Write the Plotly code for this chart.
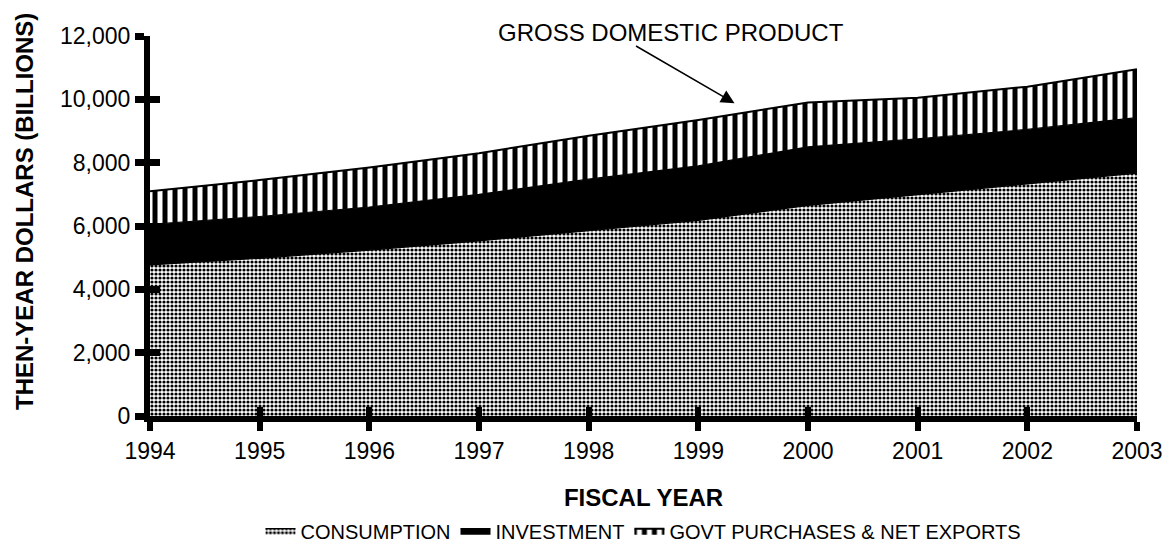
import plotly.graph_objects as go

years = [1994, 1995, 1996, 1997, 1998, 1999, 2000, 2001, 2002, 2003]
consumption = [4770, 4980, 5240, 5530, 5850, 6180, 6650, 7000, 7330, 7670]
investment = [1280, 1320, 1360, 1470, 1630, 1720, 1850, 1750, 1720, 1750]
govt_net_exports = [1050, 1150, 1250, 1300, 1370, 1450, 1400, 1300, 1350, 1530]

y_ticks = [0, 2000, 4000, 6000, 8000, 10000, 12000]

FONT = "Liberation Sans, Arial, sans-serif"

fig = go.Figure()
fig.add_trace(go.Scatter(
    x=years, y=consumption, name="CONSUMPTION", stackgroup="gdp",
    mode="lines", line=dict(color="black", width=1.2), fillcolor="white",
    fillpattern=dict(shape=".", fgcolor="black", bgcolor="white", size=4, solidity=0.5,
                     fgopacity=1),
))
fig.add_trace(go.Scatter(
    x=years, y=investment, name="INVESTMENT", stackgroup="gdp",
    mode="lines", line=dict(color="black", width=1.2), fillcolor="black",
))
fig.add_trace(go.Scatter(
    x=years, y=govt_net_exports, name="GOVT PURCHASES & NET EXPORTS", stackgroup="gdp",
    mode="lines", line=dict(color="black", width=2), fillcolor="white",
    fillpattern=dict(shape="|", fgcolor="black", bgcolor="white", size=10, solidity=0.5,
                     fgopacity=1),
))
# empty helper trace so the overlay axes (inner half of the crossing ticks) are drawn
fig.add_trace(go.Scatter(x=[], y=[], xaxis="x2", yaxis="y2", showlegend=False, hoverinfo="skip"))

fig.add_annotation(
    x=1998.75, xref="x", y=1.0105, yref="paper", text="GROSS DOMESTIC PRODUCT",
    showarrow=False, font=dict(family=FONT, size=24, color="black"), yanchor="middle",
)
fig.add_annotation(
    x=1999.33, y=9880, xref="x", yref="y", text="", showarrow=True,
    ax=-100, ay=-58, arrowhead=2, arrowsize=1.8, arrowwidth=1.5, arrowcolor="black",
)
fig.add_annotation(
    x=-0.1266, xref="paper", y=0.537, yref="paper", text="THEN-YEAR DOLLARS (BILLIONS)",
    textangle=-90, showarrow=False, xanchor="center", yanchor="middle",
    font=dict(family=FONT, size=24, color="black", weight="bold"),
)

axis_font = dict(family=FONT, size=23, color="black")
title_font = dict(family=FONT, size=24, color="black", weight="bold")

fig.update_layout(
    width=1166, height=546,
    margin=dict(l=150, r=29, t=36, b=130, autoexpand=False),
    paper_bgcolor="white", plot_bgcolor="white",
    font=dict(family=FONT, color="black"),
    showlegend=True,
    legend=dict(orientation="h", x=0.5, xanchor="center",
                yref="container", y=0.028, yanchor="middle",
                font=dict(family=FONT, size=20, color="black"),
                itemwidth=30, traceorder="normal"),
    xaxis=dict(
        range=[1994, 2003], tickvals=years, ticktext=[str(y) for y in years],
        ticks="outside", ticklen=9, tickwidth=6, tickcolor="black",
        showline=True, linewidth=6, linecolor="black", showgrid=False, zeroline=False,
        tickfont=axis_font, automargin=False,
        title=dict(text="FISCAL YEAR", font=title_font, standoff=29),
    ),
    yaxis=dict(
        range=[0, 12000], tickvals=y_ticks, tickformat=",",
        ticks="outside", ticklen=9, tickwidth=7, tickcolor="black",
        showline=True, linewidth=6, linecolor="black", showgrid=False, zeroline=False,
        tickfont=axis_font, ticklabelstandoff=0, automargin=False,
    ),
    xaxis2=dict(overlaying="x", matches="x", anchor="y2", side="bottom",
                tickvals=years, ticks="inside", ticklen=9, tickwidth=6, tickcolor="black",
                showticklabels=False, showline=False, showgrid=False, zeroline=False),
    yaxis2=dict(overlaying="y", matches="y", anchor="x2", side="left",
                tickvals=y_ticks, ticks="inside", ticklen=10, tickwidth=7, tickcolor="black",
                showticklabels=False, showline=False, showgrid=False, zeroline=False),
)

fig.write_html("out.html", config={"displayModeBar": False},
               post_script="document.body.style.margin='0';")
